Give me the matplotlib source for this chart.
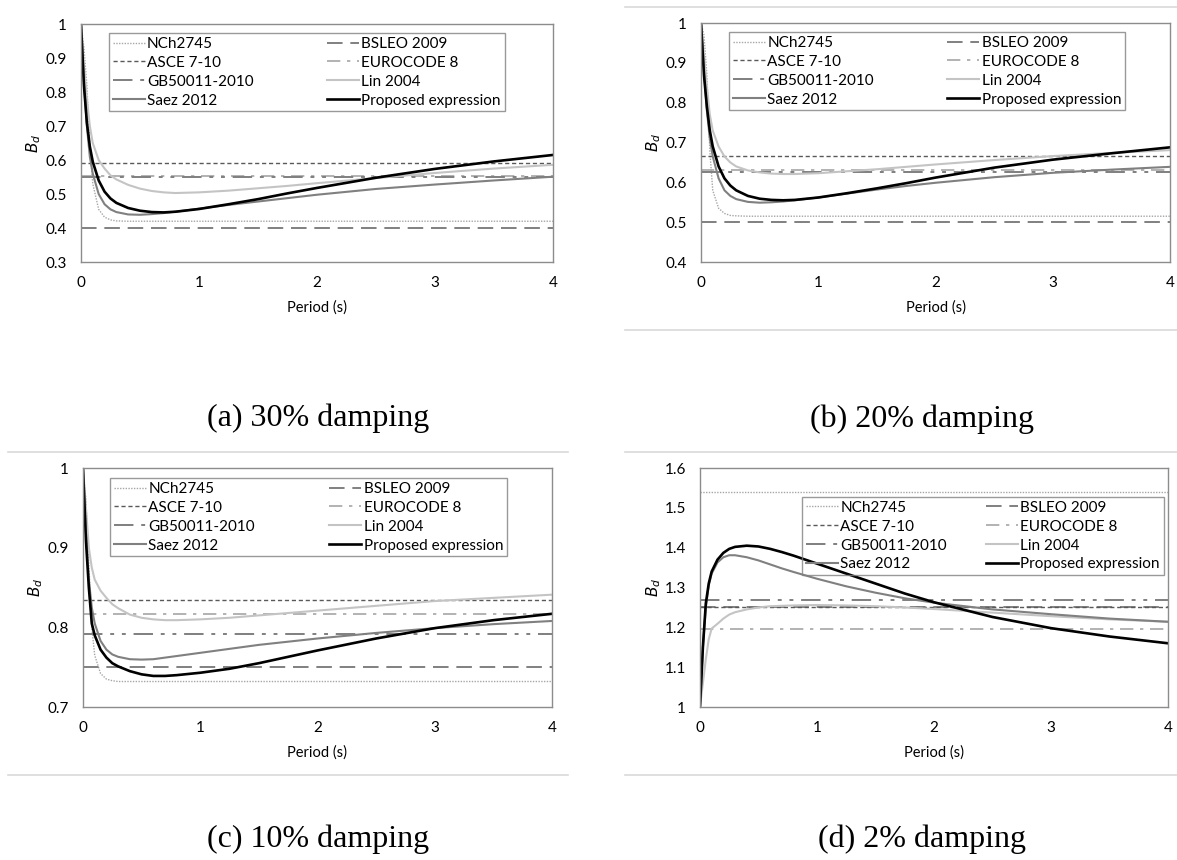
import matplotlib
matplotlib.use("Agg")
import matplotlib.pyplot as plt
from matplotlib.lines import Line2D
from matplotlib.ticker import FuncFormatter, MultipleLocator

plt.rcParams["font.family"] = ["Lato", "DejaVu Sans"]

# Period values (s) where the curves were read
period = [0, 0.025, 0.05, 0.075, 0.1, 0.15, 0.2, 0.25, 0.3, 0.4, 0.5, 0.6,
          0.7, 0.8, 1.0, 1.25, 1.5, 1.75, 2.0, 2.5, 3.0, 3.5, 4.0]

captions = ["(a) 30% damping", "(b) 20% damping", "(c) 10% damping", "(d) 2% damping"]

# constant code factors for each damping level (a, b, c, d)
bsleo = [0.40, 0.50, 0.75, 1.25]
asce = [0.59, 0.667, 0.834, 1.25]
eurocode = [0.553, 0.632, 0.817, 1.195]
gb50011 = [0.55, 0.625, 0.792, 1.268]

nch_a = [1.0, 0.93, 0.82, 0.64, 0.53, 0.455, 0.432, 0.424, 0.421, 0.42, 0.42, 0.42,
         0.42, 0.42, 0.42, 0.42, 0.42, 0.42, 0.42, 0.42, 0.42, 0.42, 0.42]
lin_a = [1.0, 0.88, 0.78, 0.70, 0.65, 0.60, 0.575, 0.555, 0.543, 0.527, 0.516, 0.509,
         0.505, 0.503, 0.505, 0.51, 0.517, 0.524, 0.532, 0.547, 0.562, 0.575, 0.586]
saez_a = [1.0, 0.83, 0.70, 0.61, 0.56, 0.50, 0.47, 0.455, 0.447, 0.44, 0.439, 0.441,
          0.444, 0.448, 0.457, 0.468, 0.478, 0.488, 0.498, 0.515, 0.528, 0.54, 0.551]
prop_a = [1.0, 0.82, 0.71, 0.64, 0.595, 0.54, 0.507, 0.487, 0.474, 0.459, 0.451, 0.447,
          0.446, 0.448, 0.456, 0.47, 0.485, 0.502, 0.518, 0.548, 0.574, 0.596, 0.615]

nch_b = [1.0, 0.97, 0.87, 0.68, 0.58, 0.535, 0.522, 0.517, 0.516, 0.515, 0.515, 0.515,
         0.515, 0.515, 0.515, 0.515, 0.515, 0.515, 0.515, 0.515, 0.515, 0.515, 0.515]
lin_b = [1.0, 0.92, 0.84, 0.77, 0.73, 0.69, 0.665, 0.65, 0.64, 0.63, 0.625, 0.622,
         0.621, 0.621, 0.623, 0.628, 0.633, 0.639, 0.645, 0.656, 0.666, 0.674, 0.681]
saez_b = [1.0, 0.88, 0.78, 0.71, 0.665, 0.61, 0.58, 0.566, 0.558, 0.551, 0.549, 0.55,
          0.552, 0.555, 0.562, 0.572, 0.582, 0.591, 0.599, 0.613, 0.624, 0.632, 0.639]
prop_b = [1.0, 0.87, 0.79, 0.73, 0.69, 0.64, 0.61, 0.592, 0.58, 0.566, 0.559, 0.556,
          0.555, 0.556, 0.562, 0.573, 0.585, 0.598, 0.612, 0.637, 0.657, 0.673, 0.688]

nch_c = [1.0, 0.96, 0.88, 0.80, 0.765, 0.742, 0.735, 0.733, 0.732, 0.732, 0.732, 0.732,
         0.732, 0.732, 0.732, 0.732, 0.732, 0.732, 0.732, 0.732, 0.732, 0.732, 0.732]
lin_c = [1.0, 0.95, 0.90, 0.875, 0.86, 0.846, 0.837, 0.829, 0.824, 0.816, 0.812, 0.81,
         0.809, 0.809, 0.81, 0.812, 0.815, 0.818, 0.821, 0.827, 0.833, 0.837, 0.841]
saez_c = [1.0, 0.92, 0.86, 0.825, 0.805, 0.783, 0.772, 0.766, 0.763, 0.76, 0.7595, 0.76,
          0.762, 0.764, 0.768, 0.773, 0.778, 0.782, 0.786, 0.793, 0.799, 0.804, 0.808]
prop_c = [1.0, 0.91, 0.85, 0.805, 0.79, 0.772, 0.762, 0.755, 0.751, 0.745, 0.741, 0.739,
          0.739, 0.74, 0.743, 0.748, 0.755, 0.763, 0.771, 0.786, 0.799, 0.809, 0.817]

nch_d = [1.54, 1.54, 1.54, 1.54, 1.54, 1.54, 1.54, 1.54, 1.54, 1.54, 1.54, 1.54,
         1.54, 1.54, 1.54, 1.54, 1.54, 1.54, 1.54, 1.54, 1.54, 1.54, 1.54]
lin_d = [1.0, 1.06, 1.12, 1.17, 1.197, 1.209, 1.222, 1.232, 1.238, 1.245, 1.25, 1.253,
         1.254, 1.255, 1.256, 1.255, 1.253, 1.25, 1.246, 1.237, 1.228, 1.22, 1.214]
saez_d = [1.0, 1.15, 1.25, 1.305, 1.335, 1.363, 1.376, 1.381, 1.381, 1.376, 1.368, 1.358,
          1.348, 1.339, 1.322, 1.303, 1.287, 1.273, 1.262, 1.245, 1.233, 1.222, 1.214]
prop_d = [1.0, 1.15, 1.26, 1.31, 1.34, 1.37, 1.387, 1.397, 1.402, 1.405, 1.403, 1.397,
          1.389, 1.38, 1.36, 1.335, 1.31, 1.285, 1.263, 1.226, 1.198, 1.177, 1.16]

nch = [nch_a, nch_b, nch_c, nch_d]
lin = [lin_a, lin_b, lin_c, lin_d]
saez = [saez_a, saez_b, saez_c, saez_d]
prop = [prop_a, prop_b, prop_c, prop_d]

ylims = [(0.3, 1.0), (0.4, 1.0), (0.7, 1.0), (1.0, 1.6)]

fig = plt.figure(figsize=(11.77, 8.6), dpi=100)

# axes rectangles in figure fractions
rects = [
    [0.0688, 0.6953, 0.401, 0.2767],
    [0.5956, 0.6953, 0.3985, 0.2779],
    [0.0705, 0.1779, 0.3985, 0.2779],
    [0.5947, 0.1779, 0.3976, 0.2779],
]
# legend anchors (x0, top, width) in axes fractions
leg_pos = [(0.059, 0.962, 0.839), (0.060, 0.962, 0.844),
           (0.058, 0.958, 0.846), (0.218, 0.879, 0.773)]
cap_pos = [(0.270, 0.514), (0.783, 0.512), (0.270, 0.024), (0.783, 0.024)]

frame_col = "#8c8c8c"

for i in range(4):
    ax = fig.add_axes(rects[i])

    h_nch, = ax.plot(period, nch[i], color="#a6a6a6", lw=1.0, dashes=(1, 1))
    h_bsleo = ax.axhline(bsleo[i], color="#808080", lw=1.4, dashes=(8, 4))
    h_asce = ax.axhline(asce[i], color="#595959", lw=1.0, dashes=(3, 2))
    h_ec8 = ax.axhline(eurocode[i], color="#a6a6a6", lw=1.2, dashes=(8, 4, 2, 4))
    h_gb = ax.axhline(gb50011[i], color="#7f7f7f", lw=1.4, dashes=(10, 4, 2, 4, 2, 4))
    h_lin, = ax.plot(period, lin[i], color="#c4c4c4", lw=1.5)
    h_saez, = ax.plot(period, saez[i], color="#808080", lw=1.5)
    h_prop, = ax.plot(period, prop[i], color="black", lw=1.9)

    ax.set_xlim(0, 4)
    ax.set_ylim(*ylims[i])
    ax.xaxis.set_major_locator(MultipleLocator(1))
    ax.yaxis.set_major_locator(MultipleLocator(0.1))
    ax.yaxis.set_major_formatter(FuncFormatter(lambda v, p: "{:g}".format(round(v, 2))))
    ax.tick_params(length=0, labelsize=11, pad=10)
    for s in ax.spines.values():
        s.set_color(frame_col)
        s.set_linewidth(1.0)

    ax.set_xlabel("Period (s)", fontsize=10.5)
    ax.xaxis.set_label_coords(0.5, -0.16)
    ax.set_ylabel(r"$B_d$", fontsize=11)
    ax.yaxis.set_label_coords(-0.08, 0.5)

    handles = [h_nch, h_bsleo, h_asce, h_ec8, h_gb, h_lin, h_saez, h_prop]
    labels = ["NCh2745", "BSLEO 2009", "ASCE 7-10", "EUROCODE 8",
              "GB50011-2010", "Lin 2004", "Saez 2012", "Proposed expression"]
    # legend fills row-wise in the picture, matplotlib fills column-wise
    order = [0, 2, 4, 6, 1, 3, 5, 7]
    x0, top, w = leg_pos[i]
    leg = ax.legend([handles[k] for k in order], [labels[k] for k in order],
                    ncol=2, loc="upper left", bbox_to_anchor=(x0, top - 0.4, w, 0.4),
                    mode="expand", fontsize=11, handlelength=2.1, handletextpad=0.15,
                    labelspacing=0.32, borderpad=0.25, borderaxespad=0.0,
                    fancybox=False, frameon=True)
    leg.get_frame().set_facecolor("none")
    leg.get_frame().set_edgecolor("#808080")
    leg.get_frame().set_linewidth(1.0)

    fig.text(cap_pos[i][0], cap_pos[i][1], captions[i], ha="center", va="center",
             fontsize=23, family="Liberation Serif")

# light separator lines between the panels
sep = "#d9d9d9"
for y in [452, 775]:
    fig.add_artist(Line2D([8 / 1177, 568 / 1177], [1 - y / 860, 1 - y / 860], color=sep, lw=1.2))
    fig.add_artist(Line2D([625 / 1177, 1.0], [1 - y / 860, 1 - y / 860], color=sep, lw=1.2))
for y in [7, 330]:
    fig.add_artist(Line2D([625 / 1177, 1.0], [1 - y / 860, 1 - y / 860], color=sep, lw=1.2))

fig.savefig("out.png", dpi=100, facecolor="white")
